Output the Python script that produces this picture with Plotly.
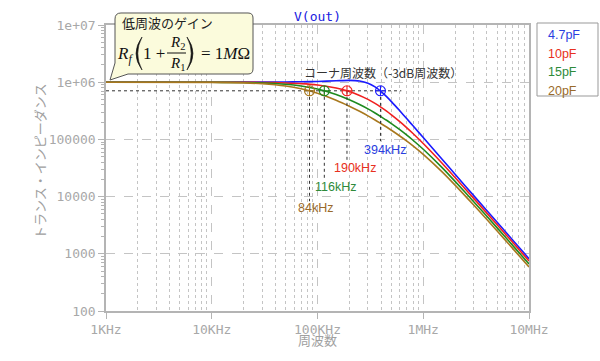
import plotly.graph_objects as go

# ---------------- data ----------------
freq_hz = [1e3, 1e4, 2e4, 3e4, 5e4, 7e4, 1e5, 1.5e5, 2e5, 2.5e5, 3e5, 3.5e5, 4e5,
           4.5e5, 5e5, 6e5, 7e5, 8e5, 1e6, 1.5e6, 2e6, 3e6, 5e6, 7e6, 1e7]

z_4p7pF = [1.0e6, 1.0003e6, 1.0014e6, 1.003e6, 1.0084e6, 1.016e6, 1.031e6, 1.060e6,
           1.076e6, 1.050e6, 0.963e6, 0.827e6, 0.684e6, 0.560e6, 0.458e6, 0.316e6,
           0.229e6, 0.1726e6, 0.1076e6, 45500, 24600, 10390, 3556, 1747, 823]
z_10pF = [1.0e6, 0.9988e6, 0.9952e6, 0.9894e6, 0.9711e6, 0.9451e6, 0.8946e6, 0.7930e6,
          0.6866e6, 0.5876e6, 0.5009e6, 0.4253e6, 0.3625e6, 0.3121e6, 0.2690e6, 0.2046e6,
          0.1594e6, 0.1269e6, 84920, 38760, 21560, 9301, 3219, 1586, 748]
z_15pF = [1.0e6, 0.9964e6, 0.9858e6, 0.9688e6, 0.9198e6, 0.8580e6, 0.7585e6, 0.6089e6,
          0.4933e6, 0.4069e6, 0.3414e6, 0.2892e6, 0.2480e6, 0.2159e6, 0.1886e6, 0.1478e6,
          0.1184e6, 96630, 67250, 32410, 18470, 8124, 2842, 1405, 664]
z_20pF = [0.9999e6, 0.9931e6, 0.9730e6, 0.9421e6, 0.8599e6, 0.7687e6, 0.6426e6, 0.4853e6,
          0.3811e6, 0.3097e6, 0.2583e6, 0.2187e6, 0.1881e6, 0.1645e6, 0.1445e6, 0.1147e6,
          93180, 77040, 54830, 27390, 15900, 7109, 2511, 1244, 589]

series_names = ["4.7pF", "10pF", "15pF", "20pF"]
series_values = [z_4p7pF, z_10pF, z_15pF, z_20pF]
line_colors = ["#1a1aff", "#f02020", "#1e8a1e", "#a8781e"]
text_colors = ["#2a3ee0", "#e83020", "#2e8a3a", "#9a6a2a"]

corner_freqs = [394e3, 190e3, 116e3, 84e3]
corner_labels = ["394kHz", "190kHz", "116kHz", "84kHz"]
corner_level = [707107]          # -3 dB level of 1 MΩ
corner_line_end = [620e3]        # where the -3 dB dotted line stops
label_drop = [93e3, 41e3, 20e3, 8.3e3]   # lower end of the vertical dotted lines

x_tick_vals = [1e3, 1e4, 1e5, 1e6, 1e7]
x_tick_text = ["1KHz", "10KHz", "100KHz", "1MHz", "10MHz"]
y_tick_vals = [1e2, 1e3, 1e4, 1e5, 1e6, 1e7]
y_tick_text = ["100", "1000", "10000", "100000", "1e+06", "1e+07"]

# ---------------- layout helpers ----------------
W, H = 600, 361
L, R, T, B = 106, 529, 25, 311


def PX(px):
    return (px - L) / (R - L)


def PY(py):
    return (B - py) / (B - T)


fig = go.Figure()

for name, vals, col in zip(series_names, series_values, line_colors):
    fig.add_trace(go.Scatter(x=freq_hz, y=vals, mode="lines", name=name,
                             line=dict(color=col, width=1.6, shape="spline", smoothing=0.8),
                             showlegend=False, hoverinfo="skip"))

# -3 dB horizontal dotted line
fig.add_trace(go.Scatter(x=[freq_hz[0], corner_line_end[0]], y=[corner_level[0]] * 2,
                         mode="lines", line=dict(color="#333333", width=1, dash="dot"),
                         showlegend=False, hoverinfo="skip"))

# vertical dotted lines + markers
for f, yl, col in zip(corner_freqs, label_drop, line_colors):
    fig.add_trace(go.Scatter(x=[f, f], y=[corner_level[0], yl], mode="lines",
                             line=dict(color="#333333", width=1, dash="dot"),
                             showlegend=False, hoverinfo="skip"))
for f, col in zip(corner_freqs, line_colors):
    fig.add_trace(go.Scatter(x=[f], y=corner_level, mode="markers",
                             marker=dict(symbol="circle-cross-open", size=10,
                                         color=col, line=dict(width=1.1, color=col)),
                             showlegend=False, hoverinfo="skip"))

grid_col = "#c4c4c4"
axis_col = "#b4b4b4"
tick_font = dict(family="DejaVu Sans Mono", size=13, color="#a8a8a8")

x_minor = [m * 10 ** e for e in range(3, 7) for m in range(2, 10)]
y_minor = [m * 10 ** e for e in range(2, 7) for m in range(2, 10)]

fig.update_xaxes(type="log", range=[3, 7], tickmode="array", tickvals=x_tick_vals,
                 ticktext=x_tick_text, tickfont=tick_font, ticks="outside", ticklen=6,
                 tickcolor=axis_col, showline=True, linecolor=axis_col, linewidth=1.5,
                 mirror=True, showgrid=True, gridcolor=grid_col, griddash="dash",
                 gridwidth=1, zeroline=False, automargin=False,
                 minor=dict(tickmode="array", tickvals=x_minor, showgrid=True,
                            gridcolor=grid_col, griddash="dot", gridwidth=1,
                            ticks=""))
fig.update_yaxes(type="log", range=[2, 7], tickmode="array", tickvals=y_tick_vals,
                 ticktext=y_tick_text, tickfont=tick_font, ticks="outside", ticklen=6,
                 tickcolor=axis_col, showline=True, linecolor=axis_col, linewidth=1.5,
                 mirror=True, showgrid=True, gridcolor=grid_col, griddash="dash",
                 gridwidth=1, zeroline=False, automargin=False,
                 minor=dict(tickmode="array", tickvals=y_minor, showgrid=False,
                            ticks="outside", ticklen=3, tickcolor=axis_col))

ann = []
shapes = []


def add_text(px, py, text, font, xanchor="center", **kw):
    ann.append(dict(x=PX(px), y=PY(py), xref="paper", yref="paper", text=text,
                    showarrow=False, xanchor=xanchor, yanchor="middle", font=font, **kw))


cjk = "Noto Sans CJK JP"
# axis titles
add_text(39, 162, "トランス・インピーダンス", dict(family=cjk, size=13, color="#a0a0a0"),
         textangle=-90)
add_text(317, 339, "周波数", dict(family=cjk, size=13, color="#a0a0a0"))
# chart title
add_text(317, 16, "V(out)", dict(family="DejaVu Sans Mono", size=13, color="#2020e0"))
# corner frequency caption
add_text(383, 72, "コーナ周波数（-3dB周波数）", dict(family=cjk, size=12, color="#333333"))

# corner labels
label_pos = [(385, 150), (355, 168), (335, 187), (315, 208)]
for (lx, ly), txt, col in zip(label_pos, corner_labels, text_colors):
    add_text(lx, ly, txt, dict(family="Liberation Sans", size=12.5, color=col))

# legend box
shapes.append(dict(type="rect", xref="paper", yref="paper", x0=PX(537), x1=PX(598),
                   y0=PY(96), y1=PY(23), line=dict(color="#999999", width=1),
                   fillcolor="white", layer="above"))
for i, (txt, col) in enumerate(zip(series_names, text_colors)):
    add_text(546, 35 + 18.5 * i, txt, dict(family="Liberation Sans", size=12.5, color=col),
             xanchor="left")


# callout box with tail
def P(px, py):
    return f"{PX(px):.5f},{PY(py):.5f}"


path = ("M " + P(121, 13) + " L " + P(248, 13) + " Q " + P(253, 13) + " " + P(253, 18) +
        " L " + P(253, 69) + " Q " + P(253, 74) + " " + P(248, 74) +
        " L " + P(128, 74) + " L " + P(110, 80) + " L " + P(115, 63) +
        " L " + P(115, 19) + " Q " + P(115, 13) + " " + P(121, 13) + " Z")
shapes.append(dict(type="path", xref="paper", yref="paper", path=path,
                   fillcolor="#fbfbdc", line=dict(color="#555555", width=1), layer="above"))

add_text(120, 23, "低周波のゲイン", dict(family=cjk, size=13, color="#222222"), xanchor="left")
serif = "Liberation Serif"
ink = "#111111"
add_text(125, 55, "<i>R</i><sub><i>f</i></sub>", dict(family=serif, size=17, color=ink))
# parentheses drawn as thin crescents
shapes.append(dict(type="path", xref="paper", yref="paper",
                   path="M " + P(142, 37) + " Q " + P(130, 53.5) + " " + P(142, 70) +
                        " Q " + P(133.5, 53.5) + " " + P(142, 37) + " Z",
                   fillcolor=ink, line=dict(color=ink, width=0.6), layer="above"))
shapes.append(dict(type="path", xref="paper", yref="paper",
                   path="M " + P(187, 37) + " Q " + P(199, 53.5) + " " + P(187, 70) +
                        " Q " + P(195.5, 53.5) + " " + P(187, 37) + " Z",
                   fillcolor=ink, line=dict(color=ink, width=0.6), layer="above"))
add_text(154, 53, "1 +", dict(family=serif, size=17, color=ink))
add_text(177, 43, "<i>R</i><sub>2</sub>", dict(family=serif, size=15, color=ink))
add_text(177, 64, "<i>R</i><sub>1</sub>", dict(family=serif, size=15, color=ink))
shapes.append(dict(type="line", xref="paper", yref="paper", x0=PX(167), x1=PX(186),
                   y0=PY(53), y1=PY(53), line=dict(color=ink, width=1), layer="above"))
add_text(225, 53, "= 1<i>M</i>Ω", dict(family=serif, size=17, color=ink))

fig.update_layout(width=W, height=H,
                  margin=dict(l=L, r=W - R, t=T, b=H - B, autoexpand=False),
                  plot_bgcolor="white", paper_bgcolor="white",
                  annotations=ann, shapes=shapes, showlegend=False)

fig.write_html("out.html", config={"displayModeBar": False},
               post_script="document.body.style.margin='0';"
                           "document.body.style.overflow='hidden';")
